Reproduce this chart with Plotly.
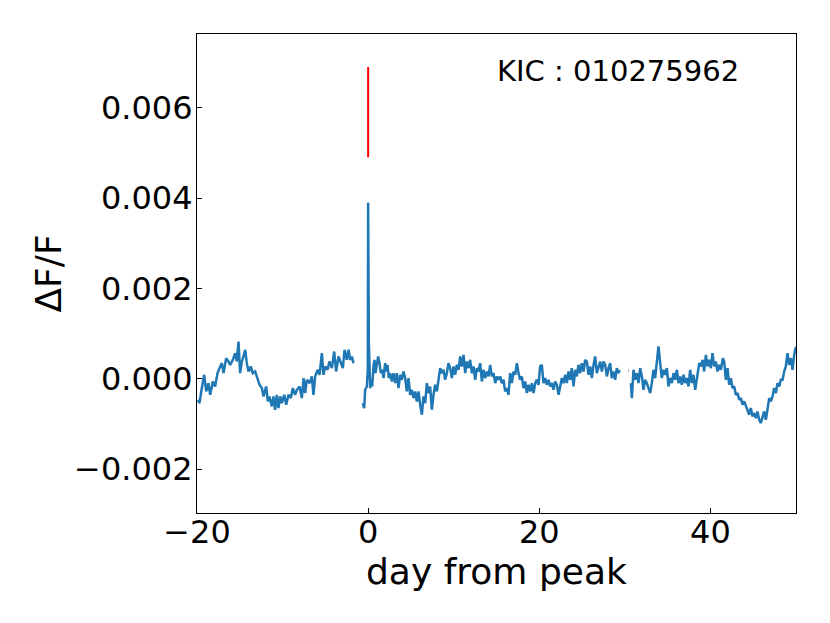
import plotly.graph_objects as go

# Light curve: days from flare peak, and relative flux dF/F (None = data gap)
days = [
    -19.90, -19.71, -19.44, -19.16, -18.93, -18.66, -18.46, -18.15, -17.88, -17.60,
    -17.37, -17.10, -16.90, -16.59, -16.32, -16.12, -15.81, -15.54, -15.35, -15.15,
    -14.96, -14.76, -14.57, -14.37, -14.18, -13.98, -13.71, -13.48, -13.20, -12.93,
    -12.70, -12.42, -12.23, -11.92, -11.72, -11.53, -11.26, -11.06, -10.87, -10.67,
    -10.48, -10.28, -10.09, -9.81, -9.58, -9.31, -9.03, -8.80, -8.53, -8.33,
    -8.02, -7.75, -7.55, -7.36, -7.17, -6.85, -6.58, -6.39, -6.19, -5.92,
    -5.68, -5.41, -5.22, -5.02, -4.75, -4.52, -4.24, -3.97, -3.74, -3.46,
    -3.19, -2.96, -2.76, -2.49, -2.29, -2.10, -1.90, -1.71,
    None,
    -0.62, -0.46, -0.35, -0.15, -0.04, 0.00, 0.08, 0.16, 0.24, 0.35,
    0.47, 0.63, 0.74, 0.86, 1.02, 1.17, 1.33, 1.48, 1.64, 1.80,
    1.99, 2.11, 2.26, 2.42, 2.57, 2.77, 2.96, 3.16, 3.35, 3.55,
    3.74, 3.94, 4.13, 4.33, 4.52, 4.72, 4.91, 5.11, 5.30, 5.50,
    5.69, 5.89, 6.08, 6.28, 6.47, 6.67, 6.86, 7.06, 7.25, 7.44,
    7.64, 7.83, 8.03, 8.22, 8.42, 8.61, 8.81, 9.00, 9.20, 9.39,
    9.59, 9.78, 9.98, 10.17, 10.37, 10.56, 10.76, 10.95, 11.15, 11.34,
    11.53, 11.73, 11.92, 12.12, 12.31, 12.51, 12.70, 12.90, 13.09, 13.29,
    13.48, 13.68, 13.87, 14.07, 14.26, 14.46, 14.65, 14.85, 15.04,
    15.23, 15.43, 15.62, 15.82, 16.01, 16.21, 16.40, 16.60, 16.79, 16.99,
    17.18, 17.38, 17.57, 17.77, 17.96, 18.16, 18.35, 18.55, 18.74, 18.94,
    19.13, 19.33, 19.52, 19.71, 19.91, 20.10, 20.30, 20.49, 20.69, 20.88,
    21.08, 21.27, 21.47, 21.66, 21.86, 22.05, 22.25, 22.44, 22.64, 22.83,
    23.03, 23.22, 23.42, 23.61, 23.80, 24.00, 24.19, 24.39, 24.58, 24.78,
    24.97, 25.17, 25.36, 25.56, 25.75, 25.95, 26.14, 26.34, 26.53, 26.73,
    26.92, 27.12, 27.31, 27.51, 27.70, 27.90, 28.09, 28.28, 28.48, 28.67,
    28.87, 29.06, 29.26, 29.38,
    None,
    30.40, 30.47,
    None,
    30.70, 30.82, 31.01, 31.21, 31.40, 31.60, 31.79, 31.99, 32.18, 32.37,
    32.57, 32.76, 32.96, 33.15, 33.35, 33.54, 33.74, 33.93, 34.13, 34.32,
    34.52, 34.71, 34.91, 35.10, 35.30, 35.49, 35.69, 35.88, 36.08, 36.27,
    36.47, 36.66, 36.86, 37.05, 37.24, 37.44, 37.63, 37.83, 38.02, 38.22,
    38.34, 38.49, 38.69, 38.88, 39.08, 39.27, 39.47, 39.66, 39.85, 40.05,
    40.24, 40.44, 40.63, 40.83, 41.02, 41.22, 41.45, 41.61, 41.80, 42.00,
    42.19, 42.39, 42.58, 42.78, 42.97, 43.17, 43.36, 43.56, 43.75, 43.95,
    44.14, 44.33, 44.53, 44.72, 44.92, 45.11, 45.31, 45.50, 45.70, 45.89,
    46.09, 46.28, 46.48, 46.67, 46.87, 47.06, 47.26, 47.45, 47.65, 47.84,
    48.04, 48.23, 48.43, 48.62, 48.81, 49.01, 49.20, 49.40, 49.59, 49.79,
    49.94, 50.10,
]

flux = [
    -0.000464, -0.000538, -0.000206, 0.000088, -0.000280, -0.000096, -0.000354, -0.000059, -0.000170, 0.000125,
    0.000236, 0.000346, 0.000125, 0.000457, 0.000383, 0.000309, 0.000420, 0.000567, 0.000383, 0.000825,
    0.000125, 0.000383, 0.000494, 0.000641, 0.000346, 0.000162, 0.000273, 0.000125, 0.000162, -0.000022,
    -0.000133, -0.000206, -0.000390, -0.000170, -0.000501, -0.000390, -0.000611, -0.000390, -0.000685, -0.000354,
    -0.000648, -0.000390, -0.000538, -0.000354, -0.000575, -0.000354, -0.000427, -0.000206, -0.000354, -0.000243,
    -0.000170, -0.000427, 0.000015, -0.000317, -0.000022, -0.000096, 0.000052, -0.000354, 0.000052, 0.000199,
    0.000088, 0.000567, 0.000088, 0.000273, 0.000199, 0.000383, 0.000236, 0.000604, 0.000162, 0.000494,
    0.000346, 0.000236, 0.000641, 0.000420, 0.000641, 0.000420, 0.000494, 0.000346,
    None,
    -0.000538, -0.000648, -0.000243, -0.000170, 0.000199, 0.003900, 0.000800, 0.000052, -0.000206, -0.000022,
    -0.000170, 0.000273, 0.000420, 0.000125, 0.000383, 0.000494, 0.000346, 0.000125, 0.000199, 0.000015,
    0.000346, 0.000162, 0.000309, 0.000015, 0.000125, -0.000059, 0.000125, -0.000096, 0.000125, -0.000206,
    0.000088, -0.000022, 0.000162, 0.000015, -0.000280, 0.000015, -0.000354, -0.000243, -0.000427, -0.000280,
    -0.000501, -0.000280, -0.000575, -0.000796, -0.000390, -0.000538, -0.000096, -0.000317, -0.000170, -0.000685,
    -0.000354, -0.000133, -0.000280, -0.000059, 0.000236, 0.000125, 0.000199, -0.000022, 0.000125, 0.000346,
    0.000236, 0.000015, 0.000273, 0.000088, 0.000309, 0.000199, 0.000494, 0.000273, 0.000530, 0.000125,
    0.000383, 0.000236, 0.000420, 0.000125, 0.000273, -0.000022, 0.000236, 0.000162, 0.000346, -0.000059,
    0.000199, 0.000015, 0.000162, 0.000052, 0.000309, 0.000052, 0.000125, -0.000096, 0.000052,
    -0.000022, 0.000052, -0.000096, -0.000022, -0.000280, -0.000206, -0.000354, 0.000125, -0.000096, 0.000162,
    0.000088, 0.000346, 0.000125, -0.000022, 0.000052, -0.000206, -0.000059, -0.000317, -0.000133, -0.000280,
    -0.000096, -0.000317, -0.000096, -0.000022, -0.000133, 0.000273, 0.000309, -0.000096, 0.000015, -0.000133,
    -0.000022, -0.000170, -0.000096, -0.000243, -0.000059, -0.000133, -0.000354, -0.000206, 0.000015, -0.000096,
    0.000088, -0.000096, 0.000162, -0.000022, 0.000236, -0.000170, 0.000199, 0.000052, 0.000309, 0.000125,
    0.000346, 0.000162, 0.000420, 0.000383, 0.000088, 0.000273, 0.000015, 0.000309, 0.000494, 0.000125,
    0.000273, 0.000383, 0.000162, 0.000383, 0.000309, 0.000052, 0.000236, 0.000346, 0.000015, 0.000162,
    -0.000022, 0.000236, 0.000125, 0.000199,
    None,
    0.000184, 0.000184,
    None,
    -0.000096, -0.000427, 0.000199, -0.000022, 0.000125, -0.000096, 0.000236, 0.000052, -0.000243, -0.000022,
    -0.000096, -0.000206, -0.000317, -0.000096, 0.000199, 0.000015, 0.000346, 0.000715, 0.000346, 0.000015,
    0.000199, 0.000088, 0.000236, -0.000170, 0.000015, -0.000096, 0.000125, -0.000022, 0.000199, -0.000096,
    0.000052, -0.000133, 0.000088, -0.000096, 0.000015, -0.000170, 0.000199, -0.000096, 0.000088, -0.000243,
    -0.000096, 0.000125, 0.000346, 0.000273, 0.000420, 0.000162, 0.000530, 0.000273, 0.000420, 0.000236,
    0.000567, 0.000273, 0.000383, 0.000162, 0.000309, 0.000199, 0.000457, 0.000383, -0.000022, 0.000236,
    -0.000133, 0.000015, -0.000206, -0.000170, -0.000354, -0.000317, -0.000464, -0.000427, -0.000575, -0.000501,
    -0.000611, -0.000685, -0.000796, -0.000648, -0.000833, -0.000759, -0.000870, -0.000722, -0.000906, -0.000980,
    -0.000833, -0.000722, -0.000906, -0.000685, -0.000427, -0.000501, -0.000390, -0.000206, -0.000317, -0.000096,
    -0.000170, -0.000022, -0.000022, 0.000162, 0.000273, 0.000567, 0.000309, 0.000457, 0.000199, 0.000530,
    0.000678, 0.000700,
]

# Red marker line above the flare peak
marker_x = [0.0, 0.0]
marker_y = [0.0049, 0.0069]

x_ticks = [-20, 0, 20, 40]
y_ticks = [-0.002, 0.000, 0.002, 0.004, 0.006]

label_text = "KIC : 010275962"

FONT = "DejaVu Sans"

fig = go.Figure()
fig.add_trace(go.Scatter(x=days, y=flux, mode="lines",
                         line=dict(color="#1f77b4", width=2.5),
                         connectgaps=False, showlegend=False, hoverinfo="skip"))
fig.add_trace(go.Scatter(x=marker_x, y=marker_y, mode="lines",
                         line=dict(color="#ff0000", width=2.0),
                         showlegend=False, hoverinfo="skip"))

axis_common = dict(showline=True, linecolor="black", linewidth=1.2, mirror=True,
                   ticks="inside", ticklen=5, tickwidth=1.1, tickcolor="black",
                   showgrid=False, zeroline=False,
                   tickfont=dict(family=FONT, size=32, color="black"))

fig.update_xaxes(range=[-20, 50], tickvals=x_ticks,
                 ticktext=[f"{v:d}".replace("-", "\u2212") for v in x_ticks],
                 ticklabelstandoff=-10, **axis_common)
fig.update_yaxes(range=[-0.00297, 0.00763], tickvals=y_ticks,
                 ticktext=[f"{v:.3f}".replace("-", "\u2212") for v in y_ticks],
                 ticklabelstandoff=-3, **axis_common)

# page body has an 8px margin; compensate so the axes sit where the reference has them
fig.update_layout(
    width=822, height=615,
    margin=dict(l=189, r=34, t=26, b=110),
    paper_bgcolor="white", plot_bgcolor="white",
    font=dict(family=FONT, color="black"),
    annotations=[
        dict(text="\u0394F/F", xref="paper", yref="paper", x=-0.2487, y=0.5,
             xanchor="center", yanchor="middle", textangle=-90, showarrow=False,
             font=dict(family=FONT, size=36, color="black")),
        dict(text="day from peak", xref="paper", yref="paper", x=0.5, y=-0.122,
             xanchor="center", yanchor="middle", showarrow=False,
             font=dict(family=FONT, size=36, color="black")),
        dict(text=label_text, xref="paper", yref="paper", x=0.497, y=0.9228,
             xanchor="left", yanchor="middle", showarrow=False,
             font=dict(family=FONT, size=29, color="black")),
    ],
)

fig.write_html("out.html")
